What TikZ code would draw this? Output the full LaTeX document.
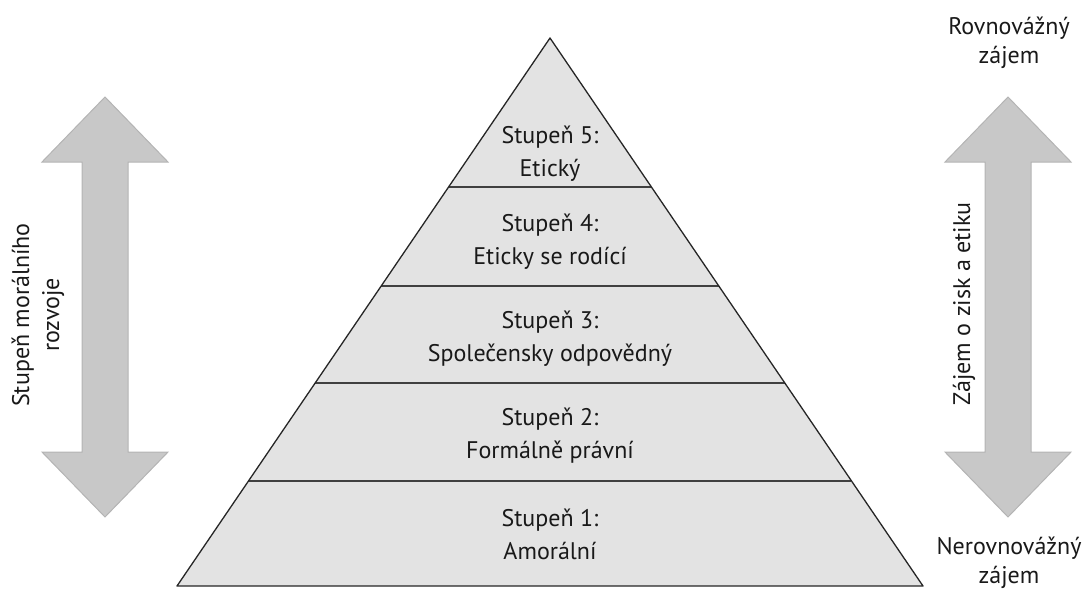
\documentclass[tikz,border=0pt]{standalone}
\usepackage{fontspec}
\setmainfont{PT Sans}
\usetikzlibrary{calc}
\definecolor{pyrfill}{RGB}{227,227,227}
\definecolor{arrfill}{RGB}{200,200,200}
\definecolor{arrline}{RGB}{180,180,180}

\begin{document}
\begin{tikzpicture}[x=1pt,y=-1pt]
            \tikzstyle{level}    = [align=center, text=black!90, font=\fontsize{24}{33}\selectfont]
            \tikzstyle{side}     = [align=center, text=black!90, font=\fontsize{24}{29}\selectfont]
            \tikzstyle{bigarrow} = [fill=arrfill, draw=arrline, line width=1pt]
            \tikzstyle{divider}  = [draw=black!75, line width=2pt]
            \tikzstyle{outline}  = [draw=black!85, line width=1.3pt, line join=round]

            \useasboundingbox (0,0) rectangle (1087,590);

            % Pyramid
            \coordinate (apex) at (550,38);
            \coordinate (baseL) at (177,586);
            \coordinate (baseR) at (923,586);
            \fill[pyrfill] (apex) -- (baseR) -- (baseL) -- cycle;
            \foreach \t in {0.272,0.453,0.630,0.808}
                \draw[divider] ($(apex)!\t!(baseL)$) -- ($(apex)!\t!(baseR)$);
            \draw[outline] (apex) -- (baseR) -- (baseL) -- cycle;

            \node[level] (stupen5) at (550,154) {Stupeň 5:\\Etický};
            \node[level] (stupen4) at (550,242) {Stupeň 4:\\Eticky se rodící};
            \node[level] (stupen3) at (550,339) {Stupeň 3:\\Společensky odpovědný};
            \node[level] (stupen2) at (550,436) {Stupeň 2:\\Formálně právní};
            \node[level] (stupen1) at (550,534) {Stupeň 1:\\Amorální};

            % Arrows
            \draw[bigarrow, shift={(105,0)}] (0,97) -- (63,162) -- (23,162) -- (23,452)
                -- (63,452) -- (0,517) -- (-63,452) -- (-23,452) -- (-23,162) -- (-63,162) -- cycle;
            \draw[bigarrow, shift={(1008,0)}] (0,97) -- (63,162) -- (23,162) -- (23,452)
                -- (63,452) -- (0,517) -- (-63,452) -- (-23,452) -- (-23,162) -- (-63,162) -- cycle;

            \node[side, rotate=90, font=\fontsize{24}{30}\selectfont] (moral) at (38,315) {Stupeň morálního\\rozvoje};
            \node[side, rotate=90] (zajem) at (964,304) {Zájem o zisk a etiku};

            % Ends
            \node[side] (rovno) at (1009,43) {Rovnovážný\\zájem};
            \node[side] (nerovno) at (1009,563) {Nerovnovážný\\zájem};
        \end{tikzpicture}
\end{document}
